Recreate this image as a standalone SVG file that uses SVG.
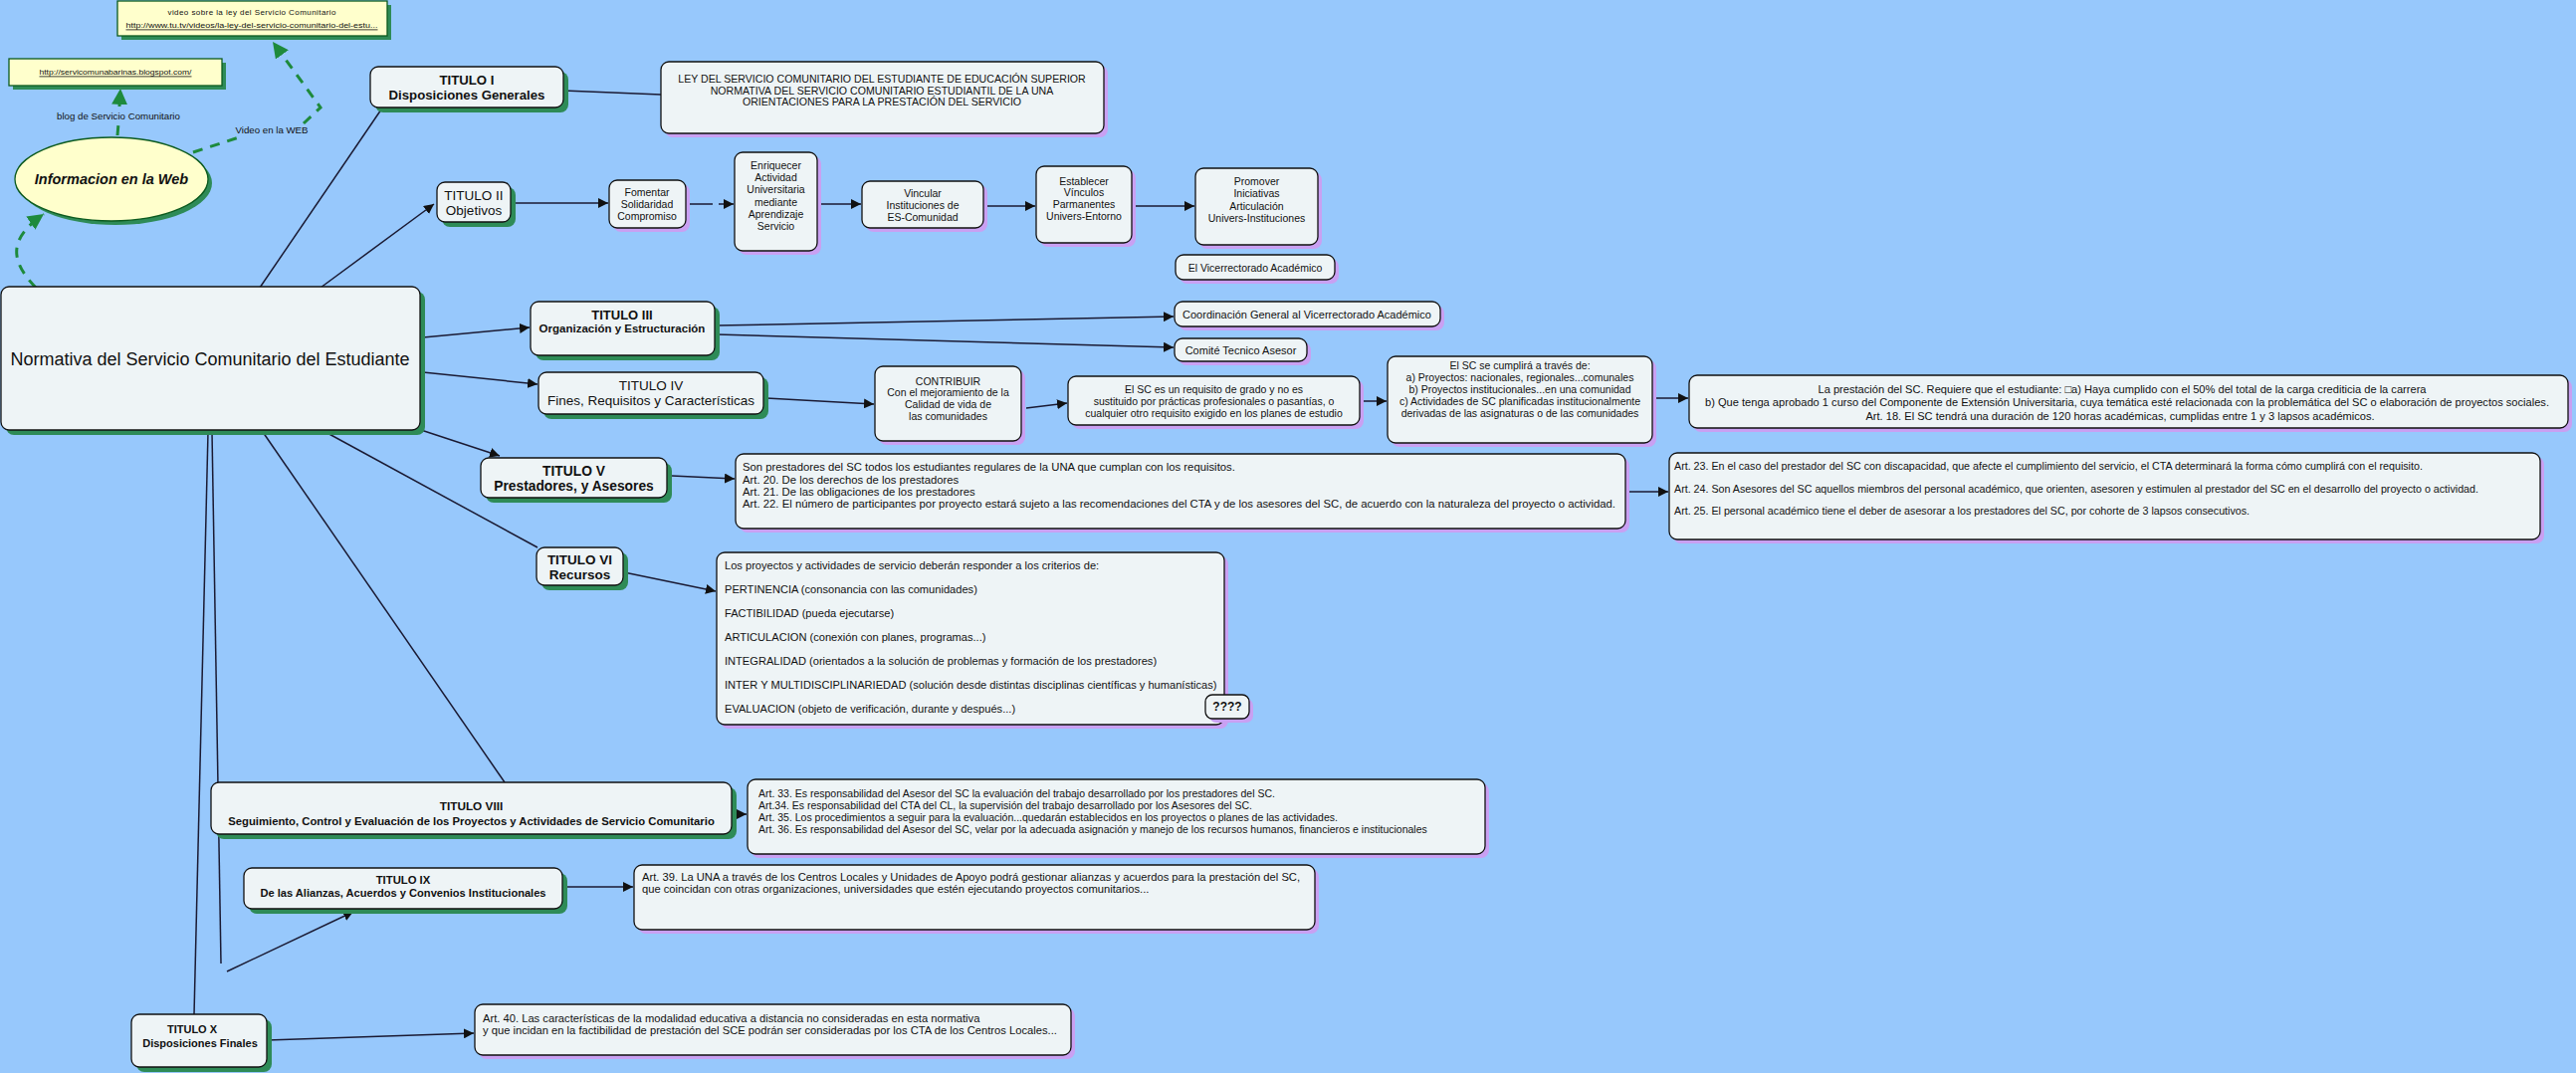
<svg xmlns="http://www.w3.org/2000/svg" width="2588" height="1078" viewBox="0 0 2588 1078">
<style>
.t{font-family:"Liberation Sans",Arial,sans-serif;fill:#111;dominant-baseline:central}
.m{text-anchor:middle}
.b{font-weight:bold}
.s{font-size:10.5px}
.box{fill:#EEF4F6;stroke:#111;stroke-width:1.3}
.sg{fill:#2E8B57}
.sp{fill:#C9A0F2}
.yb{fill:#FFFFCC;stroke:#0B5A1E;stroke-width:1.3}
.c{stroke:#1a1a33;stroke-width:1.5;fill:none}
.g{stroke:#1E8A3C;stroke-width:3;fill:none;stroke-dasharray:10 8}
.u{text-decoration:underline}
</style>
<defs>
<marker id="ah" viewBox="0 0 10 10" refX="10" refY="5" markerWidth="10" markerHeight="10" markerUnits="userSpaceOnUse" orient="auto"><path d="M0,0 L10,5 L0,10 Z" fill="#111"/></marker>
<marker id="gh" viewBox="0 0 10 10" refX="10" refY="5" markerWidth="16" markerHeight="16" markerUnits="userSpaceOnUse" orient="auto"><path d="M0,0 L10,5 L0,10 Z" fill="#1E8A3C"/></marker>
</defs>
<rect width="2588" height="1078" fill="#97C8FC"/>

<g id="connectors">
<path class="g" d="M36,289 C10,262 8,240 44,215" marker-end="url(#gh)"/>
<path class="g" d="M118,136 L119,124"/>
<path class="g" d="M120,107 L121,89" marker-end="url(#gh)"/>
<path class="g" d="M194,153 L240,138"/>
<path class="g" d="M305,124 L322,108 L274,42" marker-end="url(#gh)"/>
<path class="c" d="M261,289 L383,110"/>
<path class="c" d="M566,91 L664,95"/>
<path class="c" d="M322,289 L436,205" marker-end="url(#ah)"/>
<path class="c" d="M513,204 L611,204" marker-end="url(#ah)"/>
<path class="c" d="M689,205 L716,205"/>
<path class="c" d="M722,205 L737,205" marker-end="url(#ah)"/>
<path class="c" d="M821,205 L865,205" marker-end="url(#ah)"/>
<path class="c" d="M988,207 L1040,207" marker-end="url(#ah)"/>
<path class="c" d="M1137,207 L1200,207" marker-end="url(#ah)"/>
<path class="c" d="M425,339 L532,329" marker-end="url(#ah)"/>
<path class="c" d="M720,327 L1179,318" marker-end="url(#ah)"/>
<path class="c" d="M720,336 L1179,349" marker-end="url(#ah)"/>
<path class="c" d="M425,374 L540,386" marker-end="url(#ah)"/>
<path class="c" d="M770,400 L878,406" marker-end="url(#ah)"/>
<path class="c" d="M1031,410 L1072,405" marker-end="url(#ah)"/>
<path class="c" d="M1368,403 L1393,403" marker-end="url(#ah)"/>
<path class="c" d="M1662,400 L1696,400" marker-end="url(#ah)"/>
<path class="c" d="M423,432 L502,458" marker-end="url(#ah)"/>
<path class="c" d="M675,478 L738,481" marker-end="url(#ah)"/>
<path class="c" d="M1636,494 L1676,494" marker-end="url(#ah)"/>
<path class="c" d="M327,434 L540,550"/>
<path class="c" d="M627,575 L719,594" marker-end="url(#ah)"/>
<path class="c" d="M264,434 L507,786"/>
<path class="c" d="M735,818 L750,818" marker-end="url(#ah)"/>
<path class="c" d="M213,434 L222,968"/>
<path class="c" d="M228,976 L355,916" marker-end="url(#ah)"/>
<path class="c" d="M209,434 L195,1019"/>
<path class="c" d="M565,891 L636,891" marker-end="url(#ah)"/>
<path class="c" d="M269,1045 L476,1038" marker-end="url(#ah)"/>
<text class="t m" x="119" y="116" font-size="9.7">blog de Servicio Comunitario</text>
<text class="t m" x="273" y="130" font-size="9.7">Video en la WEB</text>
</g>

<g id="web-video">
<rect class="sg" x="122" y="5" width="271" height="35"/>
<rect class="yb" x="118" y="1" width="271" height="35"/>
<text class="t m" x="253" y="12" font-size="8" textLength="169" lengthAdjust="spacing">video sobre la ley del Servicio Comunitario</text>
<text class="t m u" x="253" y="25" font-size="8" textLength="253" lengthAdjust="spacingAndGlyphs">http://www.tu.tv/videos/la-ley-del-servicio-comunitario-del-estu...</text>
</g>
<g id="web-blog">
<rect class="sg" x="13" y="63" width="214" height="27"/>
<rect class="yb" x="9" y="59" width="214" height="27"/>
<text class="t m u" x="116" y="72" font-size="8" textLength="153" lengthAdjust="spacingAndGlyphs">http://servicomunabarinas.blogspot.com/</text>
</g>
<g id="info-web">
<ellipse class="sg" cx="116" cy="184" rx="97" ry="42"/>
<ellipse class="yb" cx="112" cy="180" rx="97" ry="42"/>
<text class="t m b" x="112" y="180" font-size="14.5" font-style="italic">Informacion en la Web</text>
</g>

<g id="normativa">
<rect class="sg" x="6" y="293" width="421" height="144" rx="8"/>
<rect class="box" x="1" y="288" width="421" height="144" rx="8"/>
<text class="t m" x="211" y="361" font-size="18">Normativa del Servicio Comunitario del Estudiante</text>
</g>

<g id="titulo1">
<rect class="sg" x="377" y="72" width="194" height="41" rx="8"/>
<rect class="box" x="372" y="67" width="194" height="41" rx="8"/>
<text class="t m b" x="469" y="80" font-size="13.2">TITULO I</text>
<text class="t m b" x="469" y="95" font-size="13.2">Disposiciones Generales</text>
</g>
<g id="ley">
<rect class="sp" x="668" y="66" width="445" height="72" rx="8"/>
<rect class="box" x="664" y="62" width="445" height="72" rx="8"/>
<text class="t m" x="886" y="79" font-size="10.6">LEY DEL SERVICIO COMUNITARIO DEL ESTUDIANTE DE EDUCACIÓN SUPERIOR</text>
<text class="t m" x="886" y="91" font-size="10.6">NORMATIVA DEL SERVICIO COMUNITARIO ESTUDIANTIL DE LA UNA</text>
<text class="t m" x="886" y="102" font-size="10.6">ORIENTACIONES PARA LA PRESTACIÓN DEL SERVICIO</text>
</g>

<g id="titulo2">
<rect class="sg" x="444" y="188" width="74" height="40" rx="8"/>
<rect class="box" x="439" y="183" width="74" height="40" rx="8"/>
<text class="t m" x="476" y="196" font-size="13.5">TITULO II</text>
<text class="t m" x="476" y="211" font-size="13.5">Objetivos</text>
</g>
<g id="fomentar">
<rect class="sp" x="616" y="185" width="77" height="48" rx="8"/>
<rect class="box" x="612" y="181" width="77" height="48" rx="8"/>
<text class="t m s" x="650" y="193">Fomentar</text>
<text class="t m s" x="650" y="205">Solidaridad</text>
<text class="t m s" x="650" y="217">Compromiso</text>
</g>
<g id="enriquecer">
<rect class="sp" x="742" y="157" width="83" height="99" rx="8"/>
<rect class="box" x="738" y="153" width="83" height="99" rx="8"/>
<text class="t m s" x="779.5" y="166">Enriquecer</text>
<text class="t m s" x="779.5" y="178">Actividad</text>
<text class="t m s" x="779.5" y="190">Universitaria</text>
<text class="t m s" x="779.5" y="203">mediante</text>
<text class="t m s" x="779.5" y="215">Aprendizaje</text>
<text class="t m s" x="779.5" y="227">Servicio</text>
</g>
<g id="vincular">
<rect class="sp" x="870" y="186" width="122" height="47" rx="8"/>
<rect class="box" x="866" y="182" width="122" height="47" rx="8"/>
<text class="t m s" x="927" y="194">Vincular</text>
<text class="t m s" x="927" y="206">Instituciones de</text>
<text class="t m s" x="927" y="218">ES-Comunidad</text>
</g>
<g id="establecer">
<rect class="sp" x="1045" y="171" width="96" height="77" rx="8"/>
<rect class="box" x="1041" y="167" width="96" height="77" rx="8"/>
<text class="t m s" x="1089" y="182">Establecer</text>
<text class="t m s" x="1089" y="193">Vínculos</text>
<text class="t m s" x="1089" y="205">Parmanentes</text>
<text class="t m s" x="1089" y="217">Univers-Entorno</text>
</g>
<g id="promover">
<rect class="sp" x="1205" y="173" width="123" height="77" rx="8"/>
<rect class="box" x="1201" y="169" width="123" height="77" rx="8"/>
<text class="t m s" x="1262.5" y="182">Promover</text>
<text class="t m s" x="1262.5" y="194">Iniciativas</text>
<text class="t m s" x="1262.5" y="207">Articulación</text>
<text class="t m s" x="1262.5" y="219">Univers-Instituciones</text>
</g>
<g id="vicerrectorado">
<rect class="sp" x="1185" y="260" width="160" height="25" rx="8"/>
<rect class="box" x="1181" y="256" width="160" height="25" rx="8"/>
<text class="t m s" x="1261" y="268.5">El Vicerrectorado Académico</text>
</g>

<g id="titulo3">
<rect class="sg" x="538" y="308" width="185" height="54" rx="8"/>
<rect class="box" x="533" y="303" width="185" height="54" rx="8"/>
<text class="t m b" x="625" y="316" font-size="13">TITULO III</text>
<text class="t m b" x="625" y="330" font-size="11.5">Organización y Estructuración</text>
</g>
<g id="coordinacion">
<rect class="sp" x="1184" y="307" width="267" height="25" rx="8"/>
<rect class="box" x="1180" y="303" width="267" height="25" rx="8"/>
<text class="t m" x="1313" y="316" font-size="11">Coordinación General al Vicerrectorado Académico</text>
</g>
<g id="comite">
<rect class="sp" x="1184" y="344" width="133" height="23" rx="8"/>
<rect class="box" x="1180" y="340" width="133" height="23" rx="8"/>
<text class="t m" x="1246.5" y="352" font-size="11">Comité Tecnico Asesor</text>
</g>

<g id="titulo4">
<rect class="sg" x="546" y="379" width="226" height="42" rx="8"/>
<rect class="box" x="541" y="374" width="226" height="42" rx="8"/>
<text class="t m" x="654" y="387" font-size="13.5">TITULO IV</text>
<text class="t m" x="654" y="402" font-size="13.5">Fines, Requisitos y Características</text>
</g>
<g id="contribuir">
<rect class="sp" x="883" y="372" width="147" height="75" rx="8"/>
<rect class="box" x="879" y="368" width="147" height="75" rx="8"/>
<text class="t m s" x="952.5" y="383">CONTRIBUIR</text>
<text class="t m s" x="952.5" y="394">Con el mejoramiento de la</text>
<text class="t m s" x="952.5" y="406">Calidad de vida de</text>
<text class="t m s" x="952.5" y="418">las comunidades</text>
</g>
<g id="requisito">
<rect class="sp" x="1077" y="382" width="293" height="49" rx="8"/>
<rect class="box" x="1073" y="378" width="293" height="49" rx="8"/>
<text class="t m s" x="1219.5" y="391">El SC es un requisito de grado y no es</text>
<text class="t m s" x="1219.5" y="403">sustituido por prácticas profesionales o pasantías, o</text>
<text class="t m s" x="1219.5" y="415">cualquier otro requisito exigido en los planes de estudio</text>
</g>
<g id="cumplira">
<rect class="sp" x="1398" y="362" width="266" height="87" rx="8"/>
<rect class="box" x="1394" y="358" width="266" height="87" rx="8"/>
<text class="t m s" x="1527" y="367">El SC se cumplirá a través de:</text>
<text class="t m s" x="1527" y="379">a) Proyectos: nacionales, regionales...comunales</text>
<text class="t m s" x="1527" y="391">b) Proyectos institucionales...en una comunidad</text>
<text class="t m s" x="1527" y="403">c) Actividades de SC planificadas institucionalmente</text>
<text class="t m s" x="1527" y="415">derivadas de las asignaturas o de las  comunidades</text>
</g>
<g id="prestacion">
<rect class="sp" x="1701" y="381" width="883" height="53" rx="8"/>
<rect class="box" x="1697" y="377" width="883" height="53" rx="8"/>
<text class="t m" x="2132" y="391" font-size="11.1">La prestación del SC. Requiere que el estudiante: □a) Haya cumplido con el 50% del total de la carga crediticia de la carrera</text>
<text class="t m" x="2137" y="404" font-size="11.1">b) Que tenga aprobado 1 curso del Componente de Extensión Universitaria, cuya temática esté relacionada con la problemática del SC o elaboración de proyectos sociales.</text>
<text class="t m" x="2130" y="418" font-size="11.1">Art. 18. El SC tendrá una duración de 120 horas académicas, cumplidas entre 1 y 3 lapsos académicos.</text>
</g>

<g id="titulo5">
<rect class="sg" x="488" y="465" width="187" height="40" rx="8"/>
<rect class="box" x="483" y="460" width="187" height="40" rx="8"/>
<text class="t m b" x="576.5" y="473" font-size="13.8">TITULO V</text>
<text class="t m b" x="576.5" y="488" font-size="13.8">Prestadores, y Asesores</text>
</g>
<g id="art20">
<rect class="sp" x="743" y="460" width="894" height="75" rx="8"/>
<rect class="box" x="739" y="456" width="894" height="75" rx="8"/>
<g font-size="11.3">
<text class="t" x="746" y="469">Son prestadores del SC todos los estudiantes regulares de la UNA que cumplan con los requisitos.</text>
<text class="t" x="746" y="482">Art. 20. De los derechos de los prestadores</text>
<text class="t" x="746" y="494">Art. 21. De las obligaciones de los prestadores</text>
<text class="t" x="746" y="506" textLength="877" lengthAdjust="spacingAndGlyphs">Art. 22. El número de participantes por proyecto estará sujeto a las recomendaciones del CTA y de los asesores del SC, de acuerdo con la naturaleza del proyecto o actividad.</text>
</g>
</g>
<g id="art23">
<rect class="sp" x="1681" y="459" width="875" height="87" rx="8"/>
<rect class="box" x="1677" y="455" width="875" height="87" rx="8"/>
<g font-size="10.7">
<text class="t" x="1682" y="468">Art. 23. En el caso del prestador del SC con discapacidad, que afecte el cumplimiento del servicio, el CTA determinará la forma cómo cumplirá con el requisito.</text>
<text class="t" x="1682" y="491">Art. 24. Son Asesores del SC aquellos miembros del personal académico, que orienten, asesoren y estimulen al prestador del SC en el desarrollo del proyecto o actividad.</text>
<text class="t" x="1682" y="513">Art. 25. El personal académico tiene el deber de asesorar a los prestadores del SC, por cohorte de 3 lapsos consecutivos.</text>
</g>
</g>

<g id="titulo6">
<rect class="sg" x="544" y="555" width="87" height="38" rx="8"/>
<rect class="box" x="539" y="550" width="87" height="38" rx="8"/>
<text class="t m b" x="582.5" y="562" font-size="13.5">TITULO VI</text>
<text class="t m b" x="582.5" y="577" font-size="13.5">Recursos</text>
</g>
<g id="criterios">
<rect class="sp" x="724" y="559" width="510" height="173" rx="8"/>
<rect class="box" x="720" y="555" width="510" height="173" rx="8"/>
<g font-size="11.1">
<text class="t" x="728" y="568">Los proyectos y actividades de servicio deberán responder a los criterios de:</text>
<text class="t" x="728" y="592">PERTINENCIA (consonancia con las comunidades)</text>
<text class="t" x="728" y="616">FACTIBILIDAD (pueda ejecutarse)</text>
<text class="t" x="728" y="640">ARTICULACION (conexión con planes, programas...)</text>
<text class="t" x="728" y="664">INTEGRALIDAD (orientados a la solución de problemas y formación de los prestadores)</text>
<text class="t" x="728" y="688">INTER Y MULTIDISCIPLINARIEDAD (solución desde distintas disciplinas científicas y humanísticas)</text>
<text class="t" x="728" y="712">EVALUACION (objeto de verificación, durante y después...)</text>
</g>
</g>
<g id="interrogantes">
<rect class="sp" x="1215" y="702" width="44" height="24" rx="7"/>
<rect class="box" x="1211" y="698" width="44" height="24" rx="7"/>
<text class="t m b" x="1233" y="710" font-size="12">????</text>
</g>

<g id="titulo8">
<rect class="sg" x="217" y="791" width="523" height="52" rx="8"/>
<rect class="box" x="212" y="786" width="523" height="52" rx="8"/>
<text class="t m b" x="473.5" y="810" font-size="11.8">TITULO VIII</text>
<text class="t m b" x="473.5" y="825" font-size="11.3">Seguimiento, Control y Evaluación de los Proyectos y Actividades de Servicio Comunitario</text>
</g>
<g id="art33">
<rect class="sp" x="755" y="787" width="741" height="75" rx="8"/>
<rect class="box" x="751" y="783" width="741" height="75" rx="8"/>
<text class="t s" x="762" y="797">Art. 33. Es responsabilidad del Asesor del SC la evaluación del trabajo desarrollado por los prestadores del SC.</text>
<text class="t s" x="762" y="809">Art.34. Es responsabilidad del CTA del CL, la supervisión del trabajo desarrollado por los Asesores del SC.</text>
<text class="t s" x="762" y="821">Art. 35. Los procedimientos a seguir para la evaluación...quedarán establecidos en los proyectos o planes de las actividades.</text>
<text class="t s" x="762" y="833">Art. 36. Es responsabilidad del Asesor del SC, velar por la adecuada asignación y manejo de los recursos humanos, financieros e institucionales</text>
</g>

<g id="titulo9">
<rect class="sg" x="250" y="877" width="320" height="41" rx="8"/>
<rect class="box" x="245" y="872" width="320" height="41" rx="8"/>
<text class="t m b" x="405" y="884" font-size="11.3">TITULO IX</text>
<text class="t m b" x="405" y="897" font-size="11.1">De las Alianzas, Acuerdos y Convenios Institucionales</text>
</g>
<g id="art39">
<rect class="sp" x="641" y="873" width="684" height="65" rx="8"/>
<rect class="box" x="637" y="869" width="684" height="65" rx="8"/>
<g font-size="11.2">
<text class="t" x="645" y="881">Art. 39. La UNA a través de los Centros Locales y Unidades de Apoyo podrá gestionar alianzas y acuerdos para la prestación del SC,</text>
<text class="t" x="645" y="893">que coincidan con otras organizaciones, universidades que estén ejecutando proyectos comunitarios...</text>
</g>
</g>

<g id="titulo10">
<rect class="sg" x="137" y="1024" width="136" height="53" rx="8"/>
<rect class="box" x="132" y="1019" width="136" height="53" rx="8"/>
<text class="t m b" x="193" y="1034" font-size="11">TITULO X</text>
<text class="t m b" x="201" y="1048" font-size="11">Disposiciones Finales</text>
</g>
<g id="art40">
<rect class="sp" x="481" y="1013" width="599" height="51" rx="8"/>
<rect class="box" x="477" y="1009" width="599" height="51" rx="8"/>
<g font-size="11.2">
<text class="t" x="485" y="1023">Art. 40. Las características de la modalidad educativa a distancia no consideradas en esta normativa</text>
<text class="t" x="485" y="1035">y que incidan en la factibilidad de prestación del SCE podrán ser consideradas por los CTA de los Centros Locales...</text>
</g>
</g>
</svg>
